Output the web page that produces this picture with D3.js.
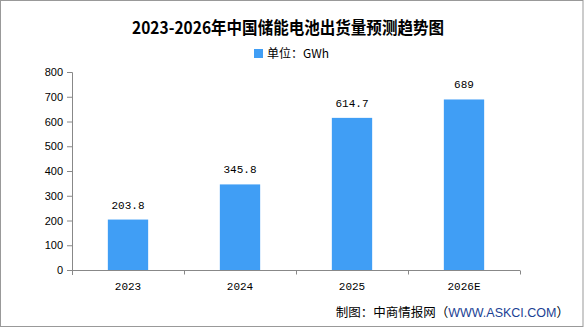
<!DOCTYPE html>
<html><head><meta charset="utf-8">
<script src="https://cdn.jsdelivr.net/npm/d3@7"></script>
<style>html,body{margin:0;padding:0;background:#fff;}svg{display:block;}</style>
</head><body>
<script>
const categories = ["2023", "2024", "2025", "2026E"];
const values = [203.8, 345.8, 614.7, 689];
const valueLabels = ["203.8", "345.8", "614.7", "689"];
const yTicks = [0, 100, 200, 300, 400, 500, 600, 700, 800];
const title = "2023-2026年中国储能电池出货量预测趋势图";
const legendLabel = "单位：GWh";

(function () {
const W = 585, H = 328;
const svg = d3.select("body").append("svg").attr("width", W).attr("height", H);
svg.append("rect").attr("x", 0.5).attr("y", 0.5).attr("width", 582.5).attr("height", 326)
  .attr("fill", "#fff").attr("stroke", "#999").attr("stroke-width", 1);

const pl = 72, pr = 520, pt = 72, pb = 270;
const x = d3.scaleBand().domain(categories).range([pl, pr]).paddingInner(0.64).paddingOuter(0.32);
const y = d3.scaleLinear().domain([0, 800]).range([pb, pt]);

// title
svg.append("text").attr("x", 288).attr("y", 34).attr("text-anchor", "middle")
  .attr("font-family", "'Noto Sans CJK SC', sans-serif").attr("font-weight", "bold")
  .attr("font-size", 17).attr("fill", "#000")
  .attr("textLength", 312).attr("lengthAdjust", "spacingAndGlyphs").text(title);

// legend
svg.append("rect").attr("x", 254).attr("y", 49).attr("width", 9).attr("height", 9).attr("fill", "#409ef5");
svg.append("text").attr("x", 267).attr("y", 58).attr("font-family", "'Noto Sans CJK SC', sans-serif")
  .attr("font-size", 12).attr("fill", "#000").text(legendLabel);

// y axis
const yAxis = d3.axisLeft(y).tickValues(yTicks).tickSize(5).tickPadding(4);
const gy = svg.append("g").attr("transform", `translate(${pl},0)`).call(yAxis);
gy.select(".domain").attr("stroke", "#888").attr("d", `M-5,${pt + 0.5}H0.5V${pb + 5}`);
gy.selectAll(".tick line").attr("stroke", "#888");
gy.selectAll(".tick text").attr("font-family", "'Liberation Sans', sans-serif").attr("font-size", 11).attr("fill", "#000");

// x axis
const gx = svg.append("g").attr("transform", `translate(0,${pb + 0.5})`);
gx.append("path").attr("d", `M${pl},0H${pr}`).attr("stroke", "#888").attr("fill", "none");
const step = x.step();
const boundaries = categories.map((c, i) => pl + (i + 1) * step);
gx.selectAll("line.b").data(boundaries).enter().append("line")
  .attr("x1", d => Math.round(d) + 0.5).attr("x2", d => Math.round(d) + 0.5).attr("y1", 0).attr("y2", 4).attr("stroke", "#888");
gx.selectAll("text").data(categories).enter().append("text")
  .attr("x", d => x(d) + x.bandwidth() / 2).attr("y", 19).attr("text-anchor", "middle")
  .attr("font-family", "'Liberation Mono', monospace").attr("font-size", 11).attr("fill", "#000").text(d => d);

// bars
svg.selectAll("rect.bar").data(values).enter().append("rect").attr("class", "bar")
  .attr("x", (d, i) => x(categories[i])).attr("width", x.bandwidth())
  .attr("y", d => y(d)).attr("height", d => pb - y(d)).attr("fill", "#409ef5");

svg.selectAll("text.val").data(values).enter().append("text").attr("class", "val")
  .attr("x", (d, i) => x(categories[i]) + x.bandwidth() / 2).attr("y", d => y(d) - 11)
  .attr("text-anchor", "middle").attr("font-family", "'Liberation Mono', monospace").attr("font-size", 11)
  .attr("fill", "#000").text((d, i) => valueLabels[i]);

// footer
const ft = svg.append("text").attr("x", 569).attr("y", 317).attr("text-anchor", "end")
  .attr("font-family", "'Noto Sans CJK SC', sans-serif").attr("font-size", 12.5).attr("fill", "#000");
ft.append("tspan").text("制图：中商情报网（");
ft.append("tspan").attr("fill", "#1c3f94").attr("font-family", "'Liberation Sans', sans-serif").text("WWW.ASKCI.COM");
ft.append("tspan").text("）");
})();
</script>
</body></html>
